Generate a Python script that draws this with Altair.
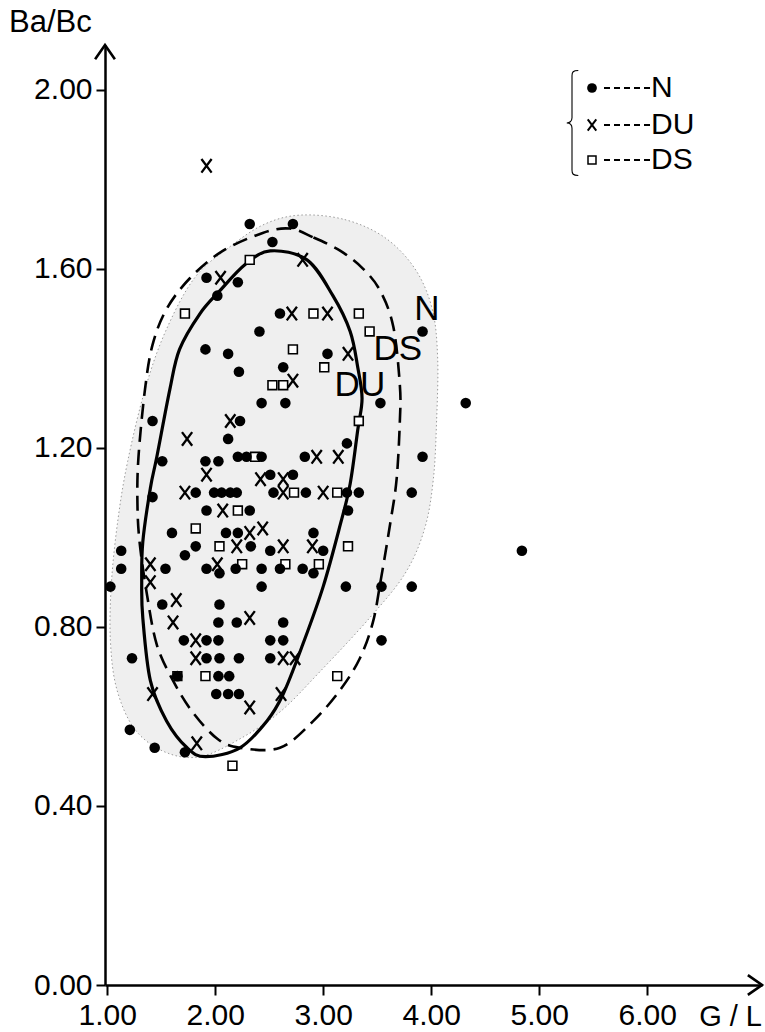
import altair as alt
import pandas as pd

# ---------------- data (G/L vs Ba/Bc) ----------------
n_x = [2.32, 2.72, 2.53, 1.92, 2.21, 2.02, 2.60, 2.41, 3.92, 1.91, 2.12, 3.04, 2.63, 2.22,
       3.53, 4.32, 2.43, 2.65, 1.42, 2.23, 2.12, 3.22, 2.83, 3.92, 1.51, 1.91, 2.03, 2.21,
       2.29, 2.43, 2.51, 2.72, 1.42, 1.82, 1.99, 2.06, 2.14, 2.20, 2.54, 2.84, 3.22, 3.33,
       3.82, 1.92, 2.32, 3.23, 1.60, 2.10, 2.21, 2.91, 1.13, 1.72, 1.82, 2.33, 2.51, 3.00,
       4.84, 1.13, 1.54, 1.92, 2.04, 2.19, 2.43, 2.60, 2.81, 2.91, 1.03, 2.43, 3.21, 3.54,
       3.82, 1.51, 2.04, 2.03, 2.20, 2.63, 1.71, 1.92, 2.03, 2.51, 2.63, 3.54, 1.23, 1.92,
       2.04, 2.22, 2.51, 1.65, 2.03, 2.13, 2.01, 2.12, 2.22, 1.21, 1.44, 1.72]
n_y = [1.70, 1.70, 1.66, 1.58, 1.57, 1.54, 1.50, 1.46, 1.46, 1.42, 1.41, 1.41, 1.38, 1.37,
       1.30, 1.30, 1.30, 1.30, 1.26, 1.26, 1.22, 1.21, 1.18, 1.18, 1.17, 1.17, 1.17, 1.18,
       1.18, 1.18, 1.14, 1.14, 1.09, 1.10, 1.10, 1.10, 1.10, 1.10, 1.10, 1.10, 1.10, 1.10,
       1.10, 1.06, 1.06, 1.06, 1.01, 1.01, 1.01, 1.01, 0.97, 0.96, 0.98, 0.98, 0.97, 0.97,
       0.97, 0.93, 0.93, 0.93, 0.92, 0.93, 0.93, 0.93, 0.93, 0.92, 0.89, 0.89, 0.89, 0.89,
       0.89, 0.85, 0.85, 0.81, 0.81, 0.81, 0.77, 0.77, 0.77, 0.77, 0.77, 0.77, 0.73, 0.73,
       0.73, 0.73, 0.73, 0.69, 0.69, 0.69, 0.65, 0.65, 0.65, 0.57, 0.53, 0.52]

du_x = [1.92, 2.81, 2.05, 2.71, 3.04, 3.23, 2.72, 2.14, 1.74, 2.94, 3.14, 1.92, 2.42, 2.63,
        1.72, 2.63, 3.00, 2.07, 2.32, 2.44, 2.20, 2.63, 2.90, 1.40, 2.02, 1.40, 1.64, 1.61,
        2.32, 1.82, 1.82, 2.63, 2.74, 1.42, 2.61, 2.32, 1.83]
du_y = [1.83, 1.62, 1.58, 1.50, 1.50, 1.41, 1.35, 1.26, 1.22, 1.18, 1.18, 1.14, 1.13, 1.13,
        1.10, 1.10, 1.10, 1.06, 1.01, 1.02, 0.98, 0.98, 0.98, 0.94, 0.94, 0.90, 0.86, 0.81,
        0.82, 0.77, 0.73, 0.73, 0.73, 0.65, 0.65, 0.62, 0.54]

ds_x = [2.32, 1.72, 2.91, 3.33, 3.43, 2.72, 3.01, 2.53, 2.63, 3.33, 2.37, 2.73, 3.13, 2.21,
        1.82, 2.04, 3.23, 2.25, 2.65, 2.96, 1.65, 1.91, 3.13, 2.16]
ds_y = [1.62, 1.50, 1.50, 1.50, 1.46, 1.42, 1.38, 1.34, 1.34, 1.26, 1.18, 1.10, 1.10, 1.06,
        1.02, 0.98, 0.98, 0.94, 0.94, 0.94, 0.69, 0.69, 0.69, 0.49]

# envelope outlines (closed curves)
du_curve_x = [2.51, 2.85, 3.09, 3.25, 3.32, 3.36, 3.32, 3.25, 3.16, 3.00, 2.81, 2.63, 2.48, 2.23,
              1.91, 1.74, 1.55, 1.40, 1.33, 1.32, 1.33, 1.40, 1.46, 1.58, 1.67, 1.86, 2.04, 2.28]
du_curve_y = [1.64, 1.62, 1.54, 1.46, 1.38, 1.31, 1.24, 1.12, 1.03, 0.89, 0.76, 0.65, 0.59, 0.53,
              0.51, 0.53, 0.59, 0.68, 0.82, 0.90, 0.99, 1.11, 1.18, 1.33, 1.42, 1.50, 1.55, 1.61]

ds_curve_x = [2.69, 2.91, 3.16, 3.37, 3.53, 3.65, 3.71, 3.71, 3.68, 3.62, 3.53, 3.46, 3.34, 3.16,
              2.91, 2.60, 2.23, 2.02, 1.79, 1.61, 1.46, 1.37, 1.30, 1.28, 1.29, 1.35, 1.42, 1.55,
              1.77, 2.07, 2.44]
ds_curve_y = [1.69, 1.67, 1.64, 1.60, 1.55, 1.47, 1.34, 1.26, 1.13, 1.03, 0.90, 0.81, 0.73, 0.66,
              0.59, 0.53, 0.53, 0.55, 0.61, 0.68, 0.76, 0.87, 0.99, 1.08, 1.18, 1.33, 1.43, 1.51,
              1.58, 1.64, 1.68]

n_zone_x = [2.79, 3.20, 3.57, 3.85, 4.01, 4.06, 4.05, 4.02, 3.94, 3.76, 3.43, 2.97, 2.60, 2.23,
            1.86, 1.54, 1.26, 1.09, 1.03, 1.04, 1.10, 1.19, 1.35, 1.54, 1.81, 2.14, 2.46]
n_zone_y = [1.72, 1.71, 1.67, 1.60, 1.51, 1.40, 1.26, 1.13, 1.02, 0.92, 0.82, 0.70, 0.61, 0.55,
            0.51, 0.52, 0.57, 0.66, 0.77, 0.90, 1.04, 1.17, 1.33, 1.46, 1.58, 1.65, 1.70]

curve_label_text = ["N", "DS", "DU"]
curve_label_x = [3.96, 3.69, 3.34]
curve_label_y = [1.51, 1.42, 1.34]

x_ticks = [1.0, 2.0, 3.0, 4.0, 5.0, 6.0]
y_ticks = [0.0, 0.4, 0.8, 1.2, 1.6, 2.0]
legend_labels = ["N", "DU", "DS"]
x_title = "G / L"
y_title = "Ba/Bc"

# ---------------- layout ----------------
W, H = 657, 940
FONT = "Liberation Sans"
X_DOM = [0.98, 7.063]
Y_DOM = [0.0, 2.1]

xs = alt.Scale(domain=X_DOM, nice=False, zero=False)
ys = alt.Scale(domain=Y_DOM, nice=False, zero=False)

x_axis = alt.Axis(values=x_ticks, format=".2f", title=None, grid=False,
                  domainColor="black", domainWidth=2.5, tickColor="black",
                  tickWidth=2, tickSize=10, labelFontSize=30, labelFont=FONT,
                  labelColor="black", labelPadding=5, labelFlush=False,
                  labelOverlap=False)
y_axis = alt.Axis(values=y_ticks, format=".2f", title=None, grid=False,
                  domainColor="black", domainWidth=2.5, tickColor="black",
                  tickWidth=2, tickSize=9, labelFontSize=30, labelFont=FONT,
                  labelColor="black", labelPadding=4, labelFlush=False,
                  labelOverlap=False)

X = lambda f: alt.X(f, type="quantitative", scale=xs, axis=x_axis)
Y = lambda f: alt.Y(f, type="quantitative", scale=ys, axis=y_axis)


def curve_df(xv, yv):
    return pd.DataFrame({"x": xv, "y": yv, "o": list(range(len(xv)))})


zone = alt.Chart(curve_df(n_zone_x, n_zone_y)).mark_line(
    interpolate="cardinal-closed", fill="#efefef", stroke="#9a9a9a",
    strokeWidth=1, strokeDash=[1.5, 2.5]
).encode(x=X("x"), y=Y("y"), order="o:Q")

ds_curve = alt.Chart(curve_df(ds_curve_x, ds_curve_y)).mark_line(
    interpolate="cardinal-closed", color="black", strokeWidth=2.6, strokeDash=[15, 8]
).encode(x=X("x"), y=Y("y"), order="o:Q")

du_curve = alt.Chart(curve_df(du_curve_x, du_curve_y)).mark_line(
    interpolate="cardinal-closed", color="black", strokeWidth=3.2
).encode(x=X("x"), y=Y("y"), order="o:Q")

X_PATH = "M -0.75 -1 L 0.75 1 M -0.75 1 L 0.75 -1"

ds_pts = alt.Chart(pd.DataFrame({"x": ds_x, "y": ds_y})).mark_point(
    shape="square", filled=True, fill="white", stroke="black", strokeWidth=1.6,
    size=78, opacity=1
).encode(x=X("x"), y=Y("y"))

du_pts = alt.Chart(pd.DataFrame({"x": du_x, "y": du_y})).mark_point(
    shape=X_PATH, filled=False, color="black", strokeWidth=2.3, size=185, opacity=1
).encode(x=X("x"), y=Y("y"))

n_pts = alt.Chart(pd.DataFrame({"x": n_x, "y": n_y})).mark_point(
    shape="circle", filled=True, color="black", size=112, opacity=1
).encode(x=X("x"), y=Y("y"))

labels = alt.Chart(pd.DataFrame({"x": curve_label_x, "y": curve_label_y,
                                 "t": curve_label_text})).mark_text(
    font=FONT, fontSize=35, color="black", align="center", baseline="middle"
).encode(x=X("x"), y=Y("y"), text="t:N")

one = lambda v: pd.DataFrame({"t": [v]})

# axis arrows
UP = "M -0.7 1 L 0 0 L 0.7 1"
RIGHT = "M -1 -0.7 L 0 0 L -1 0.7"
arrow_up = alt.Chart(one("")).mark_point(
    shape=UP, filled=False, color="black", strokeWidth=2.6, size=800, opacity=1
).encode(x=alt.value(0), y=alt.value(0))
arrow_right = alt.Chart(one("")).mark_point(
    shape=RIGHT, filled=False, color="black", strokeWidth=2.6, size=800, opacity=1
).encode(x=alt.value(W), y=alt.value(H))

ytitle = alt.Chart(one(y_title)).mark_text(
    font=FONT, fontSize=31, color="black", align="left", baseline="middle"
).encode(x=alt.value(-96), y=alt.value(-22), text="t:N")
xtitle = alt.Chart(one(x_title)).mark_text(
    font=FONT, fontSize=29, color="black", align="right", baseline="middle"
).encode(x=alt.value(W), y=alt.value(H + 32), text="t:N")

# legend (top right)
BRACE = ("M 0.12 -1 C 0.02 -1 0 -0.97 0 -0.9 L 0 -0.1 C 0 -0.03 -0.05 0 -0.1 0 "
         "C -0.05 0 0 0.03 0 0.1 L 0 0.9 C 0 0.97 0.02 1 0.12 1")
brace = alt.Chart(one("")).mark_point(
    shape=BRACE, filled=False, color="black", strokeWidth=1.1, size=11025, opacity=1
).encode(x=alt.value(467), y=alt.value(78))

leg_y = [43, 80, 115]
leg_layers = []
leg_marks = [
    dict(shape="circle", filled=True, color="black", size=95, opacity=1),
    dict(shape=X_PATH, filled=False, color="black", strokeWidth=2.0, size=130, opacity=1),
    dict(shape="square", filled=False, color="black", strokeWidth=1.5, size=64, opacity=1),
]
for lab, yy, mk in zip(legend_labels, leg_y, leg_marks):
    d = one(lab)
    leg_layers.append(alt.Chart(d).mark_point(**mk).encode(
        x=alt.value(487), y=alt.value(yy)))
    leg_layers.append(alt.Chart(d).mark_rule(
        color="black", strokeWidth=1.8, strokeDash=[6, 4]).encode(
        x=alt.value(499), x2=alt.value(546), y=alt.value(yy)))
    leg_layers.append(alt.Chart(d).mark_text(
        font=FONT, fontSize=30, color="black", align="left", baseline="middle").encode(
        x=alt.value(546), y=alt.value(yy), text="t:N"))

chart = alt.layer(
    zone, ds_curve, du_curve, ds_pts, du_pts, n_pts, labels,
    arrow_up, arrow_right, ytitle, xtitle, brace, *leg_layers
).properties(
    width=W, height=H,
    padding={"left": 105, "top": 45, "right": 3, "bottom": 47},
    autosize=alt.AutoSizeParams(type="none"),
    background="white",
).configure_view(stroke=None)

chart.save("out.html", embed_options={"renderer": "svg", "actions": False})
